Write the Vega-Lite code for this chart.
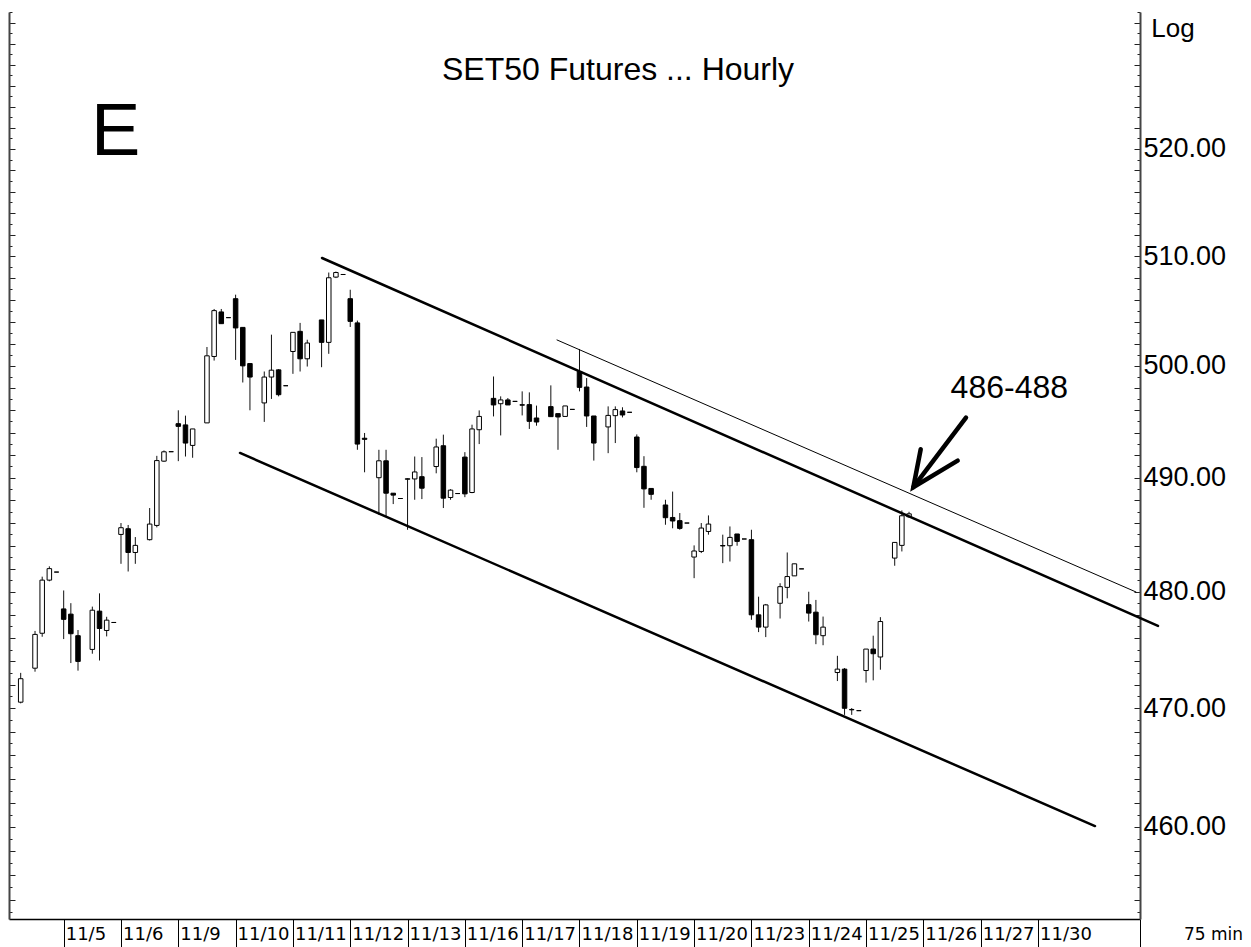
{
  "$schema": "https://vega.github.io/schema/vega-lite/v6.json",
  "width": 1131,
  "height": 907,
  "padding": {"left": 9, "top": 12, "right": 111, "bottom": 28},
  "autosize": {"type": "none"},
  "background": "white",
  "config": {"view": {"stroke": null}},
  "datasets": {
    "candles": [
      {"s":2,"o":470.5,"h":473.0,"l":470.4,"c":472.5},
      {"s":4,"o":473.4,"h":476.6,"l":473.1,"c":476.3},
      {"s":5,"o":476.4,"h":481.3,"l":476.1,"c":481.0},
      {"s":6,"o":481.0,"h":482.2,"l":480.9,"c":482.0},
      {"s":7,"o":481.7,"h":481.7,"l":481.7,"c":481.7},
      {"s":8,"o":478.5,"h":480.1,"l":475.9,"c":477.6},
      {"s":9,"o":478.05,"h":479.0,"l":473.84,"c":476.36},
      {"s":10,"o":476.19,"h":476.68,"l":473.19,"c":473.98},
      {"s":12,"o":475.01,"h":478.7,"l":474.64,"c":478.39},
      {"s":13,"o":478.31,"h":479.85,"l":474.06,"c":476.81},
      {"s":14,"o":476.64,"h":477.82,"l":476.13,"c":477.53},
      {"s":15,"o":477.33,"h":477.33,"l":477.33,"c":477.33},
      {"s":16,"o":484.99,"h":485.99,"l":482.42,"c":485.58},
      {"s":17,"o":485.49,"h":485.82,"l":481.75,"c":483.41},
      {"s":18,"o":483.41,"h":484.76,"l":482.42,"c":484.03},
      {"s":20,"o":484.53,"h":487.31,"l":484.46,"c":485.9},
      {"s":21,"o":485.78,"h":491.93,"l":485.61,"c":491.51},
      {"s":22,"o":491.46,"h":492.41,"l":491.4,"c":492.29},
      {"s":23,"o":492.3,"h":492.3,"l":492.3,"c":492.3},
      {"s":24,"o":494.8,"h":496.0,"l":491.46,"c":494.56},
      {"s":25,"o":494.69,"h":495.52,"l":491.87,"c":493.07},
      {"s":26,"o":492.86,"h":494.33,"l":491.76,"c":494.33},
      {"s":28,"o":494.87,"h":501.71,"l":494.87,"c":500.91},
      {"s":29,"o":500.85,"h":505.17,"l":500.48,"c":505.02},
      {"s":30,"o":504.9,"h":505.17,"l":503.83,"c":503.83},
      {"s":31,"o":504.38,"h":504.38,"l":504.38,"c":504.38},
      {"s":32,"o":506.11,"h":506.48,"l":500.54,"c":503.44},
      {"s":33,"o":503.49,"h":503.49,"l":498.5,"c":500.0},
      {"s":34,"o":500.21,"h":500.21,"l":496.0,"c":498.99},
      {"s":36,"o":496.66,"h":499.49,"l":494.96,"c":498.99},
      {"s":37,"o":498.99,"h":502.83,"l":497.02,"c":499.61},
      {"s":38,"o":499.64,"h":499.7,"l":497.25,"c":497.4},
      {"s":39,"o":498.21,"h":498.21,"l":498.21,"c":498.21},
      {"s":40,"o":501.3,"h":503.04,"l":499.28,"c":503.04},
      {"s":41,"o":503.13,"h":503.9,"l":499.49,"c":500.64},
      {"s":42,"o":500.64,"h":502.37,"l":499.94,"c":502.07},
      {"s":44,"o":504.17,"h":504.17,"l":499.88,"c":502.13},
      {"s":45,"o":502.13,"h":508.51,"l":501.09,"c":508.03},
      {"s":46,"o":508.09,"h":508.6,"l":508.0,"c":508.51},
      {"s":47,"o":508.33,"h":508.33,"l":508.33,"c":508.33},
      {"s":48,"o":506.11,"h":506.93,"l":503.53,"c":504.04},
      {"s":49,"o":503.9,"h":504.11,"l":492.47,"c":492.98},
      {"s":50,"o":493.5,"h":493.97,"l":490.47,"c":493.4},
      {"s":52,"o":489.99,"h":492.47,"l":486.72,"c":491.49},
      {"s":53,"o":491.49,"h":492.47,"l":486.57,"c":488.62},
      {"s":54,"o":488.62,"h":488.62,"l":487.66,"c":488.45},
      {"s":55,"o":488.15,"h":488.15,"l":488.15,"c":488.15},
      {"s":56,"o":489.85,"h":489.94,"l":485.4,"c":489.9},
      {"s":57,"o":489.88,"h":491.87,"l":488.04,"c":490.5},
      {"s":58,"o":490.08,"h":491.82,"l":488.1,"c":489.06},
      {"s":60,"o":490.98,"h":493.46,"l":490.38,"c":492.72},
      {"s":61,"o":492.83,"h":493.82,"l":487.31,"c":488.18},
      {"s":62,"o":488.24,"h":488.97,"l":488.04,"c":488.89},
      {"s":63,"o":488.59,"h":488.59,"l":488.59,"c":488.59},
      {"s":64,"o":491.82,"h":492.26,"l":488.27,"c":488.56},
      {"s":65,"o":488.68,"h":494.71,"l":488.62,"c":494.33},
      {"s":66,"o":494.26,"h":495.99,"l":492.98,"c":495.45},
      {"s":68,"o":497.07,"h":499.04,"l":495.45,"c":496.48},
      {"s":69,"o":496.59,"h":497.25,"l":493.75,"c":496.93},
      {"s":70,"o":496.93,"h":497.1,"l":496.48,"c":496.48},
      {"s":71,"o":496.8,"h":496.8,"l":496.8,"c":496.8},
      {"s":72,"o":496.5,"h":497.7,"l":495.54,"c":496.46},
      {"s":73,"o":496.51,"h":497.61,"l":494.33,"c":495.01},
      {"s":74,"o":495.31,"h":496.42,"l":494.62,"c":494.95},
      {"s":76,"o":496.33,"h":498.24,"l":495.43,"c":495.43},
      {"s":77,"o":495.7,"h":495.7,"l":492.47,"c":495.4},
      {"s":78,"o":495.45,"h":496.39,"l":495.45,"c":496.39},
      {"s":79,"o":496.08,"h":496.08,"l":496.08,"c":496.08},
      {"s":80,"o":499.49,"h":501.52,"l":497.7,"c":498.06},
      {"s":81,"o":498.09,"h":498.9,"l":494.51,"c":495.49},
      {"s":82,"o":495.49,"h":495.49,"l":491.51,"c":493.07},
      {"s":84,"o":494.51,"h":496.35,"l":492.17,"c":495.54},
      {"s":85,"o":495.52,"h":496.35,"l":493.07,"c":496.06},
      {"s":86,"o":495.94,"h":496.27,"l":495.36,"c":495.58},
      {"s":87,"o":495.82,"h":495.82,"l":495.82,"c":495.82},
      {"s":88,"o":493.61,"h":493.84,"l":490.47,"c":490.89},
      {"s":89,"o":491.0,"h":491.9,"l":487.33,"c":489.0},
      {"s":90,"o":489.04,"h":489.04,"l":488.04,"c":488.52},
      {"s":92,"o":487.58,"h":488.04,"l":485.84,"c":486.46},
      {"s":93,"o":486.48,"h":488.76,"l":485.53,"c":486.17},
      {"s":94,"o":486.2,"h":486.87,"l":485.4,"c":485.52},
      {"s":95,"o":485.99,"h":485.99,"l":485.99,"c":485.99},
      {"s":96,"o":483.01,"h":484.03,"l":481.17,"c":483.54},
      {"s":97,"o":483.5,"h":485.99,"l":483.36,"c":485.55},
      {"s":98,"o":485.25,"h":486.66,"l":484.97,"c":485.9},
      {"s":100,"o":484.02,"h":484.97,"l":482.48,"c":483.98},
      {"s":101,"o":484.0,"h":485.69,"l":482.62,"c":484.73},
      {"s":102,"o":485.03,"h":485.03,"l":484.0,"c":484.38},
      {"s":103,"o":484.59,"h":484.59,"l":484.59,"c":484.59},
      {"s":104,"o":484.53,"h":485.4,"l":477.56,"c":477.99},
      {"s":105,"o":477.99,"h":479.56,"l":476.5,"c":476.93},
      {"s":106,"o":476.93,"h":478.93,"l":476.07,"c":478.85},
      {"s":108,"o":478.99,"h":480.73,"l":477.67,"c":480.43},
      {"s":109,"o":480.37,"h":483.41,"l":479.42,"c":481.31},
      {"s":110,"o":481.37,"h":482.42,"l":481.37,"c":482.42},
      {"s":111,"o":481.98,"h":481.98,"l":481.98,"c":481.98},
      {"s":112,"o":478.87,"h":479.99,"l":477.41,"c":478.14},
      {"s":113,"o":478.22,"h":479.28,"l":475.46,"c":476.27},
      {"s":114,"o":476.19,"h":477.84,"l":475.37,"c":476.93},
      {"s":116,"o":473.03,"h":474.46,"l":472.3,"c":473.32},
      {"s":117,"o":473.32,"h":473.41,"l":469.42,"c":469.98},
      {"s":118,"o":469.85,"h":470.0,"l":469.42,"c":469.88},
      {"s":119,"o":469.78,"h":469.78,"l":469.78,"c":469.78},
      {"s":120,"o":473.2,"h":475.04,"l":472.17,"c":475.04},
      {"s":121,"o":475.04,"h":476.19,"l":472.36,"c":474.64},
      {"s":122,"o":474.36,"h":477.79,"l":473.27,"c":477.41},
      {"s":124,"o":482.92,"h":484.29,"l":482.25,"c":484.29},
      {"s":125,"o":484.03,"h":487.1,"l":483.5,"c":486.63},
      {"s":126,"o":486.54,"h":486.98,"l":486.46,"c":486.8}
    ],
    "lines": [
      {"id":"upper","ord":0,"s":44.06,"v":509.85},
      {"id":"upper","ord":1,"s":160.75,"v":477.03},
      {"id":"lower","ord":0,"s":32.61,"v":492.19},
      {"id":"lower","ord":1,"s":151.96,"v":460.08},
      {"id":"thin","ord":0,"s":76.86,"v":502.35},
      {"id":"thin","ord":1,"s":157.68,"v":479.97},
      {"id":"shaft","ord":0,"s":133.95,"v":495.34},
      {"id":"shaft","ord":1,"s":126.6,"v":489.15},
      {"id":"head","ord":0,"s":127.63,"v":492.52},
      {"id":"head","ord":1,"s":126.6,"v":489.15},
      {"id":"head","ord":2,"s":132.79,"v":491.5}
    ],
    "labels": [
      {"t":"SET50 Futures ... Hourly","s":85.38,"v":526.53,"k":"title"},
      {"t":"E","s":15.24,"v":519.44,"k":"big"},
      {"t":"486-488","s":140.0,"v":497.08,"k":"note"}
    ]
  },
  "resolve": {"axis": {"y": "independent"}},
  "layer": [
    {
      "data": {"name": "candles"},
      "mark": {"type": "rule", "color": "#111", "strokeWidth": 1},
      "encoding": {
        "x": {
          "field": "s", "type": "quantitative",
          "scale": {"domain": [0.367, 158.24], "nice": false, "zero": false, "padding": 0},
          "axis": {
            "orient": "bottom",
            "values": [8,16,24,32,40,48,56,64,72,80,88,96,104,112,120,128,136,144,158.24],
            "labelExpr": "['','11/5','11/6','11/9','11/10','11/11','11/12','11/13','11/16','11/17','11/18','11/19','11/20','11/23','11/24','11/25','11/26','11/27','11/30'][datum.value/8] || ''",
            "tickSize": 28, "tickColor": "black", "tickWidth": 1,
            "labelAlign": "left", "labelBaseline": "middle", "labelPadding": -13,
            "labelOffset": 1.5, "labelFlush": false, "labelOverlap": false, "labelBound": false,
            "labelFont": "DejaVu Sans", "labelFontSize": 18, "labelColor": "black",
            "domainColor": "black", "domainWidth": 1.5, "grid": false,
            "title": "75 min", "titleX": 1204, "titleY": 15, "titleAlign": "center",
            "titleBaseline": "middle", "titleFont": "DejaVu Sans", "titleFontSize": 17,
            "titleFontWeight": "normal", "titleColor": "black"
          }
        },
        "y": {
          "field": "l", "type": "quantitative",
          "scale": {"type": "log", "domain": [452.41, 533.04], "nice": false, "zero": false, "padding": 0},
          "axis": {
            "orient": "left",
            "values": [453,454,455,456,457,458,459,460,461,462,463,464,465,466,467,468,469,470,471,472,473,474,475,476,477,478,479,480,481,482,483,484,485,486,487,488,489,490,491,492,493,494,495,496,497,498,499,500,501,502,503,504,505,506,507,508,509,510,511,512,513,514,515,516,517,518,519,520,521,522,523,524,525,526,527,528,529,530,531,532,533],
            "labels": false, "grid": false, "title": null,
            "tickSize": {"condition": {"test": "datum.value % 2 === 0", "value": -6}, "value": -3},
            "tickColor": "#222", "domainColor": "#444", "domainWidth": 2
          }
        },
        "y2": {"field": "h"}
      }
    },
    {
      "data": {"name": "candles"},
      "mark": {"type": "bar", "width": 4.5, "stroke": "black", "strokeWidth": 1},
      "encoding": {
        "x": {"field": "s", "type": "quantitative"},
        "y": {
          "field": "o", "type": "quantitative",
          "axis": {
            "orient": "right",
            "values": [453,454,455,456,457,458,459,460,461,462,463,464,465,466,467,468,469,470,471,472,473,474,475,476,477,478,479,480,481,482,483,484,485,486,487,488,489,490,491,492,493,494,495,496,497,498,499,500,501,502,503,504,505,506,507,508,509,510,511,512,513,514,515,516,517,518,519,520,521,522,523,524,525,526,527,528,529,530,531,532,533],
            "labelExpr": "datum.value % 10 === 0 && datum.value <= 520 ? format(datum.value, '.2f') : ''",
            "tickSize": {"condition": {"test": "datum.value % 2 === 0", "value": -6}, "value": -3},
            "labelPadding": 9, "labelFont": "Liberation Sans", "labelFontSize": 27,
            "labelColor": "black", "labelBaseline": "middle", "labelOverlap": false, "labelBound": false, "labelFlush": false,
            "tickColor": "#222", "domainColor": "#444", "domainWidth": 2, "grid": false,
            "title": "Log", "titleAngle": 0, "titleX": 32.5, "titleY": 24, "titleAlign": "center",
            "titleBaseline": "alphabetic", "titleFont": "Liberation Sans", "titleFontSize": 26,
            "titleFontWeight": "normal", "titleColor": "black"
          }
        },
        "y2": {"field": "c"},
        "fill": {"condition": {"test": "datum.c < datum.o", "value": "black"}, "value": "white"}
      }
    },
    {
      "data": {"name": "lines"},
      "mark": {"type": "line", "color": "black", "clip": false, "strokeCap": "round"},
      "encoding": {
        "x": {"field": "s", "type": "quantitative"},
        "y": {"field": "v", "type": "quantitative", "axis": null},
        "detail": {"field": "id"},
        "order": {"field": "ord"},
        "strokeWidth": {"condition": [
          {"test": "datum.id === 'thin'", "value": 1},
          {"test": "datum.id === 'shaft' || datum.id === 'head'", "value": 4.5}
        ], "value": 2.5}
      }
    },
    {
      "data": {"name": "labels"},
      "mark": {"type": "text", "font": "Liberation Sans", "color": "black", "align": "center", "baseline": "alphabetic"},
      "encoding": {
        "x": {"field": "s", "type": "quantitative"},
        "y": {"field": "v", "type": "quantitative", "axis": null},
        "text": {"field": "t"},
        "size": {"condition": [
          {"test": "datum.k === 'title'", "value": 32},
          {"test": "datum.k === 'big'", "value": 74}
        ], "value": 32}
      }
    }
  ]
}
